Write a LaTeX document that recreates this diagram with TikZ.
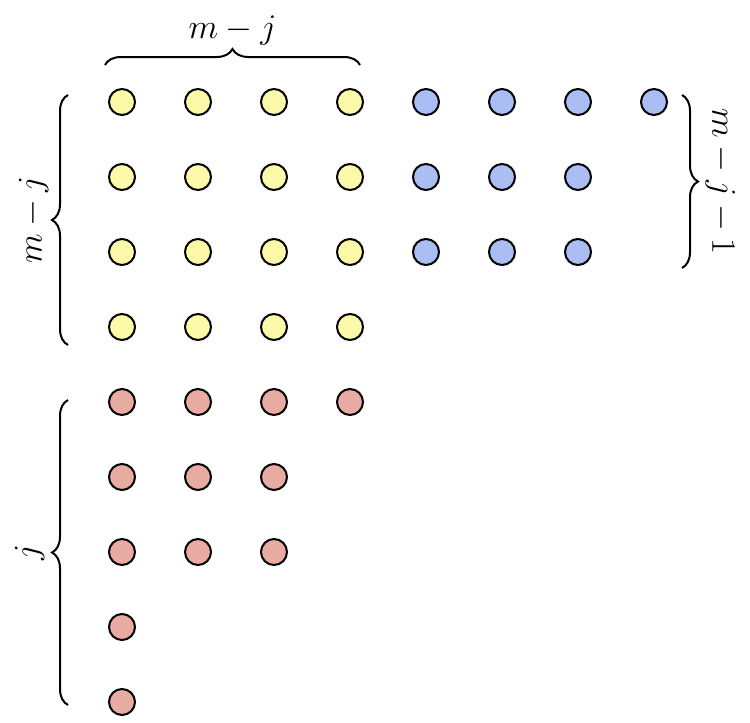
\documentclass[tikz,border=0pt]{standalone}
\usetikzlibrary{decorations.pathreplacing}
\definecolor{dotyellow}{HTML}{FCF9A8}
\definecolor{dotblue}{HTML}{AABEF4}
\definecolor{dotred}{HTML}{E8ABA2}
\tikzset{
  dot/.style={circle, draw=black, line width=1pt, minimum size=13pt, inner sep=0pt},
  brc/.style={decorate, decoration={brace, amplitude=8pt}, line width=1pt},
}
\begin{document}
\begin{tikzpicture}[x=0.5pt, y=-0.5pt]
	\useasboundingbox (0,0) rectangle (750,723);
	% yellow block
	\foreach \r in {1,...,4} \foreach \c in {1,...,4}
		\node[dot, fill=dotyellow] (y\r\c) at ({122+76*(\c-1)}, {102+75*(\r-1)}) {};
	% blue block
	\foreach \c in {5,...,8}
		\node[dot, fill=dotblue] (b1\c) at ({122+76*(\c-1)}, 102) {};
	\foreach \r in {2,3} \foreach \c in {5,...,7}
		\node[dot, fill=dotblue] (b\r\c) at ({122+76*(\c-1)}, {102+75*(\r-1)}) {};
	% red block
	\foreach \r/\n in {5/4, 6/3, 7/3, 8/1, 9/1} \foreach \c in {1,...,\n}
		\node[dot, fill=dotred] (r\r\c) at ({122+76*(\c-1)}, {102+75*(\r-1)}) {};

	\coordinate (tl) at (105,65);
	\coordinate (tr) at (360,65);
	\draw[brc] (tl) -- (tr) node[midway, above=6pt] {\LARGE $m-j$};
	\coordinate (al) at (68,345);
	\coordinate (ah) at (68,95);
	\draw[brc] (al) -- (ah) node[midway, left=6pt, rotate=90, anchor=south] {\LARGE $m-j$};
	\coordinate (bl) at (68,705);
	\coordinate (bh) at (68,400);
	\draw[brc] (bl) -- (bh) node[midway, rotate=90, anchor=south, yshift=8pt] {\LARGE $j$};
	\coordinate (ch) at (682,95);
	\coordinate (cl) at (682,268);
	\draw[brc] (ch) -- (cl) node[midway, rotate=-90, anchor=south, yshift=8pt] {\LARGE $m-j-1$};
\end{tikzpicture}
\end{document}
